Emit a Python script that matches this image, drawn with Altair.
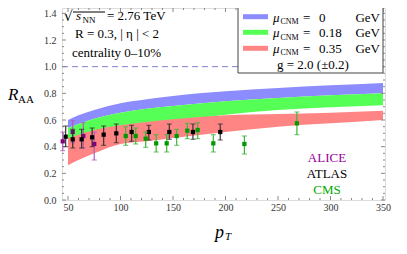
import altair as alt
import pandas as pd

# ---- data ----
band_pt = [50, 60, 75, 100, 125, 150, 200, 250, 300, 350]
blue_hi = [0.60, 0.635, 0.675, 0.725, 0.755, 0.78, 0.815, 0.84, 0.86, 0.878]
green_hi = [0.54, 0.57, 0.61, 0.655, 0.685, 0.705, 0.74, 0.765, 0.785, 0.80]
green_lo = [0.42, 0.45, 0.49, 0.535, 0.565, 0.59, 0.64, 0.675, 0.695, 0.71]
red_hi = [0.465, 0.49, 0.525, 0.56, 0.585, 0.605, 0.635, 0.645, 0.655, 0.67]
red_lo = [0.26, 0.30, 0.35, 0.42, 0.44, 0.465, 0.51, 0.55, 0.575, 0.60]

alice_pt = [45, 54.5, 64.6, 75]
alice_r = [0.44, 0.51, 0.48, 0.42]
alice_lo = [0.37, 0.43, 0.39, 0.30]
alice_hi = [0.51, 0.595, 0.58, 0.51]

atlas_pt = [47.8, 54.5, 63, 73, 84, 96, 110.6, 127, 146.5, 169, 195]
atlas_r = [0.475, 0.455, 0.455, 0.47, 0.49, 0.50, 0.51, 0.51, 0.51, 0.51, 0.51]
atlas_lo = [0.40, 0.39, 0.39, 0.40, 0.41, 0.43, 0.44, 0.45, 0.455, 0.455, 0.45]
atlas_hi = [0.555, 0.53, 0.53, 0.54, 0.555, 0.57, 0.56, 0.56, 0.57, 0.57, 0.57]

cms_pt = [105, 114.5, 124, 134, 144, 153.5, 163.6, 173.5, 188.4, 218, 268]
cms_r = [0.48, 0.48, 0.46, 0.425, 0.425, 0.48, 0.52, 0.525, 0.425, 0.42, 0.575]
cms_lo = [0.41, 0.42, 0.395, 0.36, 0.36, 0.41, 0.46, 0.46, 0.36, 0.345, 0.49]
cms_hi = [0.55, 0.54, 0.51, 0.49, 0.49, 0.53, 0.575, 0.58, 0.49, 0.48, 0.66]

x_major = [50, 100, 150, 200, 250, 300, 350]
y_major = [0.0, 0.2, 0.4, 0.6, 0.8, 1.0, 1.2, 1.4]
x_minor = [v for v in range(50, 351, 10) if v % 50 != 0]
y_minor = [round(i * 0.05, 2) for i in range(0, 29) if i % 4 != 0]

# ---- layout ----
W, H = 323, 192
SERIF = "Liberation Serif"
xs = alt.Scale(domain=[44.3, 351.9], nice=False, zero=False)
ys = alt.Scale(domain=[0, 1.44], nice=False, zero=False)
AX = alt.Axis(values=x_major, format="d", ticks=False, domain=False, grid=False,
              labelFont=SERIF, labelFontSize=10, labelColor="#333", labelPadding=2, title="")
AY = alt.Axis(values=y_major, format=".1f", ticks=False, domain=False, grid=False,
              labelFont=SERIF, labelFontSize=10, labelColor="#333", labelPadding=6, title="")

def X(f):
    return alt.X(f, scale=xs, axis=AX)

def Y(f):
    return alt.Y(f, scale=ys, axis=AY)

bands = pd.DataFrame({"pt": band_pt, "bh": blue_hi, "gh": green_hi, "gl": green_lo,
                      "rh": red_hi, "rl": red_lo})

def band(lo, hi, color):
    return alt.Chart(bands).mark_area(color=color, interpolate="monotone", opacity=1).encode(
        x=X("pt:Q"), y=Y(f"{lo}:Q"), y2=f"{hi}:Q")

layers = [band("gh", "bh", "#8c8cff"),
          band("gl", "gh", "#55ff55"),
          band("rl", "rh", "#ff8585")]

# dashed line at 1
layers.append(alt.Chart(pd.DataFrame({"y": [1.0]})).mark_rule(
    color="#7f7fd0", strokeDash=[6, 4], strokeWidth=1).encode(
    y=Y("y:Q"), x=alt.value(0), x2=alt.value(W)))

# inward frame ticks
def xticks(vals, ln):
    d = pd.DataFrame({"v": vals})
    b = alt.Chart(d).mark_rule(color="#888", strokeWidth=1)
    return [b.encode(x=X("v:Q"), y=alt.value(H), y2=alt.value(H - ln)),
            b.encode(x=X("v:Q"), y=alt.value(0), y2=alt.value(ln))]

def yticks(vals, ln):
    d = pd.DataFrame({"v": vals})
    b = alt.Chart(d).mark_rule(color="#888", strokeWidth=1)
    return [b.encode(y=Y("v:Q"), x=alt.value(0), x2=alt.value(ln)),
            b.encode(y=Y("v:Q"), x=alt.value(W), x2=alt.value(W - ln))]

layers += xticks(x_major, 4) + xticks(x_minor, 2) + yticks(y_major, 4) + yticks(y_minor, 2)

# data points
def series(pt, r, lo, hi, pcolor, bcolor):
    d = pd.DataFrame({"pt": pt, "r": r, "lo": lo, "hi": hi})
    base = alt.Chart(d)
    out = [base.mark_rule(color=bcolor, strokeWidth=1.2).encode(
        x=X("pt:Q"), y=Y("lo:Q"), y2="hi:Q")]
    for c in ["lo", "hi"]:
        out.append(base.mark_tick(color=bcolor, orient="horizontal", size=5, thickness=1.2).encode(
            x=X("pt:Q"), y=Y(f"{c}:Q")))
    out.append(base.mark_point(shape="square", filled=True, size=18, color=pcolor, opacity=1).encode(
        x=X("pt:Q"), y=Y("r:Q")))
    return out

layers += series(alice_pt, alice_r, alice_lo, alice_hi, "#800080", "#b35cb3")
layers += series(atlas_pt, atlas_r, atlas_lo, atlas_hi, "#000000", "#333333")
layers += series(cms_pt, cms_r, cms_lo, cms_hi, "#009a00", "#3cb43c")

dummy = pd.DataFrame({"a": [0]})

def label(txt, x, y, size=13, style="normal", color="black", align="left", font=SERIF):
    return alt.Chart(dummy).mark_text(text=txt, align=align, baseline="alphabetic", fontSize=size,
                                      fontStyle=style, font=font, color=color).encode(
        x=alt.value(x), y=alt.value(y))

def hline(x1, x2, y, color, width):
    return alt.Chart(dummy).mark_rule(color=color, strokeWidth=width).encode(
        x=alt.value(x1), x2=alt.value(x2), y=alt.value(y))

# legend box
layers.append(alt.Chart(dummy).mark_rect(fill="white", stroke="#444", strokeWidth=1).encode(
    x=alt.value(176), x2=alt.value(321), y=alt.value(-2), y2=alt.value(65)))
leg = [("#8c8cff", 8.7, 13.7, "0", "GeV"), ("#55ff55", 24.3, 29, "0.18", "GeV"),
       ("#ff8585", 40.3, 44.5, "0.35", "GeV")]
for col, ly, ty, val, unit in leg:
    layers.append(hline(181, 206, ly, col, 5))
    layers.append(label("μ", 211, ty, size=13, style="italic"))
    layers.append(label("CNM", 218.5, ty + 2.5, size=8))
    layers.append(label("=", 241, ty))
    layers.append(label(val, 257, ty))
    layers.append(label(unit, 318, ty, align="right"))
layers.append(label("g = 2.0 (±0.2)", 215, 61))

# top-left annotations
layers.append(label("√", 2, 13, size=14, font="DejaVu Serif"))
layers.append(hline(11, 43, 4, "black", 1))
layers.append(label("s", 14, 12, style="italic"))
layers.append(label("NN", 20.5, 15, size=9))
layers.append(label("= 2.76 TeV", 45, 12))
layers.append(label("R = 0.3, | η | < 2", 13, 30))
layers.append(label("centrality  0–10%", 10, 49))

# experiment labels
layers.append(label("ALICE", 265, 154, color="#990099", align="center"))
layers.append(label("ATLAS", 265, 170, color="black", align="center"))
layers.append(label("CMS", 265, 186, color="#00aa00", align="center"))

# axis titles
layers.append(label("R", -54, 92, size=17, style="italic"))
layers.append(label("AA", -44, 95, size=11))
layers.append(label("p", 153, 230, size=18, style="italic"))
layers.append(label("T", 163, 232, size=11, style="italic"))

chart = alt.layer(*layers).properties(
    width=W, height=H, autosize="none",
    padding={"left": 54, "top": 0, "right": 14, "bottom": 46},
).configure_view(stroke="#888", strokeWidth=1).configure(background="white")

chart.save("out.html", embed_options={"renderer": "svg", "actions": False})
